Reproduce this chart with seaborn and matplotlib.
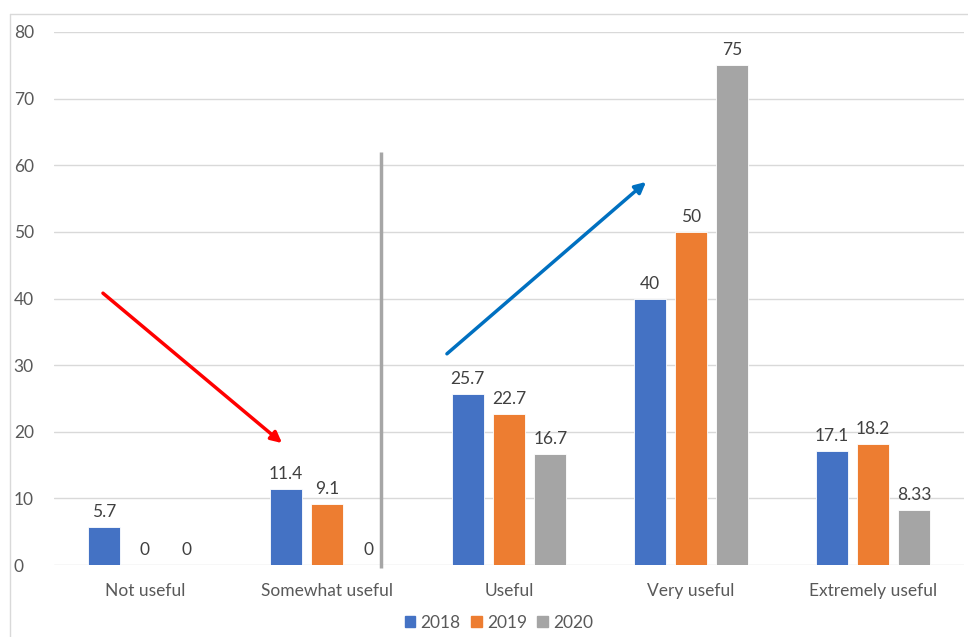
import matplotlib
matplotlib.use("Agg")
import matplotlib.pyplot as plt
from matplotlib.lines import Line2D
import seaborn as sns
import pandas as pd

categories = ["Not useful", "Somewhat useful", "Useful", "Very useful", "Extremely useful"]
years = ["2018", "2019", "2020"]
values_2018 = [5.7, 11.4, 25.7, 40, 17.1]
values_2019 = [0, 9.1, 22.7, 50, 18.2]
values_2020 = [0, 0, 16.7, 75, 8.33]
yticks = [0, 10, 20, 30, 40, 50, 60, 70, 80]

colors = ["#4472C4", "#ED7D31", "#A5A5A5"]
text_color = "#595959"

rows = []
for year, vals in zip(years, [values_2018, values_2019, values_2020]):
    for cat, v in zip(categories, vals):
        rows.append({"category": cat, "year": year, "value": v})
df = pd.DataFrame(rows)

sns.set_style("white")
plt.rcParams["font.family"] = ["Lato", "DejaVu Sans"]

fig = plt.figure(figsize=(9.68, 6.37), dpi=100)
ax = fig.add_axes([54 / 968, 1 - 565 / 637, 910 / 968, 533 / 637])

sns.barplot(data=df, x="category", y="value", hue="year", order=categories,
            hue_order=years, palette=colors, width=0.68, gap=0.22,
            errorbar=None, saturation=1, edgecolor="white", linewidth=0.6,
            ax=ax, legend=False)

for cont, vals in zip(ax.containers, [values_2018, values_2019, values_2020]):
    ax.bar_label(cont, labels=[f"{v:g}" for v in vals], padding=5,
                 fontsize=12.5, color="#404040")

ax.set_xlim(-0.5, 4.5)
ax.set_ylim(0, 80)
ax.set_yticks(yticks)
ax.set_yticklabels([str(t) for t in yticks])
ax.yaxis.grid(True, color="#d9d9d9", linewidth=1)
ax.set_axisbelow(True)
for s in ax.spines.values():
    s.set_visible(False)
ax.tick_params(axis="both", length=0, labelsize=12.5, labelcolor=text_color)
ax.tick_params(axis="x", pad=13)
ax.tick_params(axis="y", pad=29)
for lab in ax.get_yticklabels():
    lab.set_horizontalalignment("left")
ax.set_xlabel("")
ax.set_ylabel("")

# trend annotations
ax.annotate("", xy=(0.753, 18.3), xytext=(-0.231, 40.8),
            arrowprops=dict(arrowstyle="-|>", color="#FF0000", lw=2.5,
                            mutation_scale=16, shrinkA=0, shrinkB=0))
ax.annotate("", xy=(2.753, 57.5), xytext=(1.659, 31.7),
            arrowprops=dict(arrowstyle="-|>", color="#0070C0", lw=2.5,
                            mutation_scale=16, shrinkA=0, shrinkB=0))
ax.plot([1.297, 1.297], [62.0, -0.45], color="#A6A6A6", lw=2.5,
        clip_on=False, solid_capstyle="butt")

# chart frame
fig.add_artist(Line2D([10 / 968, 1], [1 - 14 / 637, 1 - 14 / 637],
                      color="#d9d9d9", lw=1))
fig.add_artist(Line2D([10 / 968, 10 / 968], [0, 1 - 14 / 637],
                      color="#d9d9d9", lw=1))

handles = [plt.Rectangle((0, 0), 1, 1, color=c) for c in colors]
fig.legend(handles, years, loc="center", bbox_to_anchor=(499 / 968, 1 - 623 / 637),
           ncol=3, frameon=False, fontsize=12.5, labelcolor=text_color,
           handlelength=0.6, handleheight=0.6, handletextpad=0.3,
           columnspacing=0.6)

fig.savefig("out.png", dpi=100)
